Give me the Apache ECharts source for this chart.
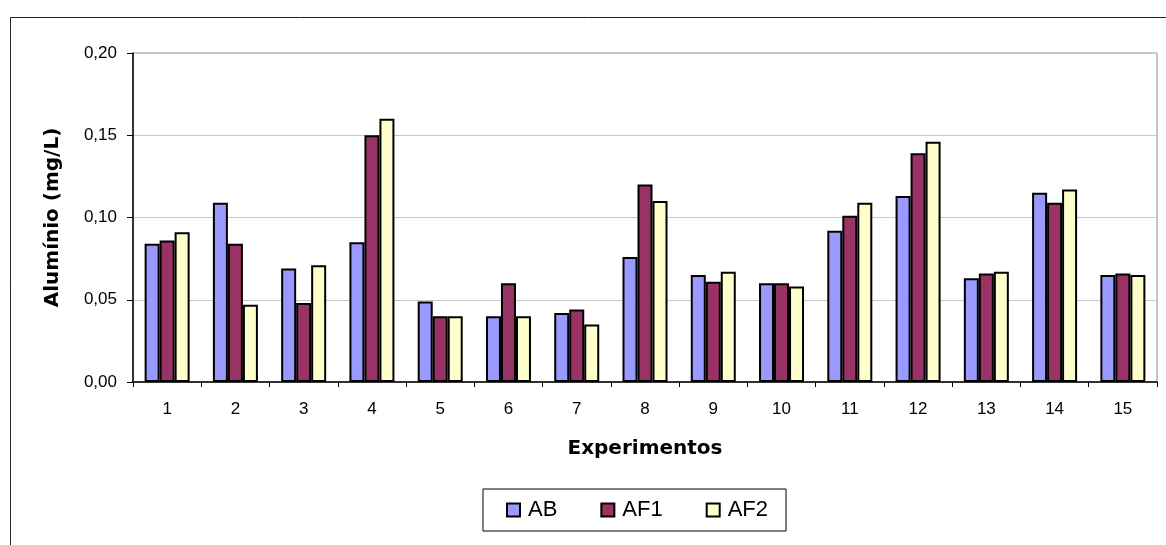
<!DOCTYPE html>
<html>
<head>
<meta charset="utf-8">
<script src="https://cdn.jsdelivr.net/npm/echarts@6/dist/echarts.min.js"></script>
<style>html,body{margin:0;padding:0;background:#fff;}#c{width:1166px;height:545px;}</style>
</head>
<body>
<div id="c"></div>
<script>
const categories = ['1','2','3','4','5','6','7','8','9','10','11','12','13','14','15'];
const seriesNames = ['AB','AF1','AF2'];
const AB  = [0.084, 0.109, 0.069, 0.085, 0.049, 0.040, 0.042, 0.076, 0.065, 0.060, 0.092, 0.113, 0.063, 0.115, 0.065];
const AF1 = [0.086, 0.084, 0.048, 0.150, 0.040, 0.060, 0.044, 0.120, 0.061, 0.060, 0.101, 0.139, 0.066, 0.109, 0.066];
const AF2 = [0.091, 0.047, 0.071, 0.160, 0.040, 0.040, 0.035, 0.110, 0.067, 0.058, 0.109, 0.146, 0.067, 0.117, 0.065];
const yTickLabels = ['0,00','0,05','0,10','0,15','0,20'];
const colors = ['#9999FF','#993366','#FFFFCC'];
const values = [AB, AF1, AF2];

const chart = echarts.init(document.getElementById('c'), null, {renderer:'canvas'});
const font = 'Liberation Sans, Arial, sans-serif';
chart.setOption({
  animation: false,
  backgroundColor: '#fff',
  graphic: [{
    type: 'rect', left: 8, top: 15, z: -10,
    shape: {width: 1200, height: 600},
    style: {fill: 'none', stroke: '#222', lineWidth: 1}
  }],
  grid: {left: 133, right: 9, top: 53, bottom: 163, show: true, borderColor: '#8c8c8c', borderWidth: 1, backgroundColor: 'transparent'},
  legend: {
    data: seriesNames, left: 483, top: 489, orient: 'horizontal',
    padding: [10, 18, 10, 23], itemGap: 43, itemWidth: 13, itemHeight: 13,
    borderColor: '#000', borderWidth: 1, icon: 'rect',
    textStyle: {fontFamily: font, fontSize: 22, color: '#000', padding: [0,0,0,3]}
  },
  xAxis: {
    type: 'category', data: categories,
    name: 'Experimentos', nameLocation: 'middle', nameGap: 57,
    nameTextStyle: {fontFamily: 'DejaVu Sans, sans-serif', fontWeight: 'bold', fontSize: 20, color: '#000'},
    axisLine: {lineStyle: {color: '#000', width: 1.5}},
    axisTick: {show: true, length: 5, alignWithLabel: false, lineStyle: {color: '#000'}},
    axisLabel: {fontFamily: font, fontSize: 17, color: '#000', margin: 19}
  },
  yAxis: {
    type: 'value', min: 0, max: 0.2, interval: 0.05,
    name: 'Alumínio (mg/L)', nameLocation: 'middle', nameGap: 70, nameRotate: 90,
    nameTextStyle: {fontFamily: 'DejaVu Sans, sans-serif', fontWeight: 'bold', fontSize: 20, color: '#000'},
    axisLine: {show: true, lineStyle: {color: '#000', width: 1.5}},
    axisTick: {show: true, length: 6, lineStyle: {color: '#000'}},
    axisLabel: {fontFamily: font, fontSize: 17, color: '#000', margin: 16,
      formatter: (v) => yTickLabels[Math.round(v / 0.05)]},
    splitLine: {lineStyle: {color: '#c8c8c8', width: 1}}
  },
  series: seriesNames.map((n, i) => ({
    name: n, type: 'bar', data: values[i], barWidth: 15, barGap: '0%',
    itemStyle: {color: colors[i], borderColor: '#000', borderWidth: 2}
  }))
});
</script>
</body>
</html>
